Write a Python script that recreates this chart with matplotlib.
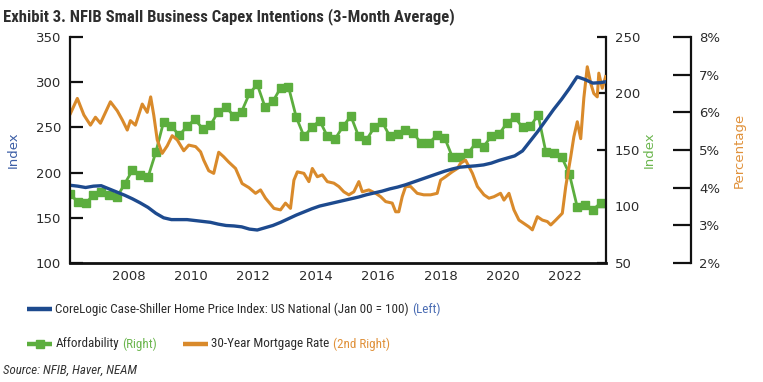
import matplotlib
matplotlib.use("Agg")
import matplotlib.pyplot as plt
from matplotlib.lines import Line2D
from matplotlib.offsetbox import AnchoredOffsetbox, DrawingArea, HPacker, TextArea
from matplotlib.ticker import FuncFormatter
import numpy as np

# ---- data ----
# quarterly dates as decimal years, Q1 2006 onward
quarters = 2006.125 + 0.25 * np.arange(70)

# CoreLogic Case-Shiller HPI, Jan 2000 = 100 (left axis)
hpi = [186, 185, 183.5, 185, 185.5, 182, 178.5, 175, 171, 166.5,
       161.5, 155, 150, 148, 148, 148, 147, 146, 145, 143,
       141.5, 141, 140, 137.5, 136.5, 139, 141.5, 145, 149, 153,
       156.5, 160, 163, 165, 167, 169, 171, 173, 175.5, 177.5,
       179.5, 182, 184, 186.5, 189.5, 192.5, 195.5, 198.5, 201.5, 204,
       206, 206.8, 207.5, 208.5, 210.5, 213.5, 216, 218.5, 224, 235,
       246, 258, 270, 281, 293, 306, 303, 299, 299.5, 301]

# Affordability index (right axis), quarterly
afford = [111, 104, 103, 110, 113, 110, 108, 120, 132, 128,
          126, 148, 175, 171, 163, 171, 177, 169, 172, 184,
          188, 180, 184, 200, 208, 188, 193, 205, 206, 179,
          162, 170, 176, 162, 160, 171, 180, 162, 159, 170,
          175, 162, 164, 168, 165, 156, 156, 163, 161, 144,
          144, 147, 156, 153, 162, 164, 174, 179, 170, 171,
          181, 148, 147, 144, 129, 100, 101, 97, 103]

# 30-year mortgage rate, % (2nd right axis)
mort_year = [2006.14, 2006.36, 2006.57, 2006.78, 2006.94, 2007.10, 2007.42, 2007.64,
             2007.80, 2007.96, 2008.06, 2008.22, 2008.44, 2008.60, 2008.71, 2008.81,
             2008.92, 2009.08, 2009.24, 2009.40, 2009.56, 2009.77, 2009.93, 2010.15,
             2010.31, 2010.41, 2010.57, 2010.73, 2010.89, 2011.05, 2011.21, 2011.43,
             2011.64, 2011.86, 2012.07, 2012.23, 2012.39, 2012.66, 2012.87, 2013.03,
             2013.19, 2013.30, 2013.41, 2013.62, 2013.78, 2013.89, 2014.05, 2014.21,
             2014.37, 2014.58, 2014.74, 2014.90, 2015.06, 2015.22, 2015.38, 2015.49,
             2015.70, 2015.92, 2016.08, 2016.24, 2016.45, 2016.56, 2016.66, 2016.77,
             2016.88, 2017.04, 2017.25, 2017.46, 2017.68, 2017.89, 2018.00, 2018.16,
             2018.37, 2018.54, 2018.64, 2018.80, 2019.02, 2019.18, 2019.39, 2019.55,
             2019.71, 2019.92, 2020.03, 2020.19, 2020.35, 2020.51, 2020.67, 2020.83,
             2020.94, 2021.10, 2021.26, 2021.42, 2021.53, 2021.69, 2021.90, 2022.01,
             2022.17, 2022.27, 2022.38, 2022.49, 2022.59, 2022.70, 2022.81, 2022.91,
             2023.02, 2023.07, 2023.18, 2023.29]
mort_rate = [5.97, 6.37, 5.93, 5.66, 5.87, 5.71, 6.28, 6.04,
             5.80, 5.53, 5.78, 5.66, 6.22, 6.00, 6.41, 5.92,
             5.27, 4.91, 5.11, 5.38, 5.27, 4.98, 5.13, 5.09,
             4.95, 4.73, 4.45, 4.38, 4.94, 4.82, 4.68, 4.51,
             4.11, 4.00, 3.85, 3.94, 3.72, 3.45, 3.41, 3.59,
             3.45, 4.20, 4.42, 4.38, 4.16, 4.51, 4.29, 4.34,
             4.16, 4.12, 4.03, 3.89, 3.81, 3.89, 4.16, 3.89,
             3.94, 3.85, 3.76, 3.63, 3.59, 3.36, 3.36, 3.76,
             4.03, 4.03, 3.85, 3.81, 3.81, 3.85, 4.20, 4.29,
             4.42, 4.51, 4.65, 4.73, 4.38, 4.03, 3.81, 3.72,
             3.76, 3.85, 3.67, 3.85, 3.41, 3.14, 3.05, 2.96,
             2.88, 3.23, 3.14, 3.10, 3.01, 3.14, 3.32, 4.03,
             4.82, 5.35, 5.75, 5.30, 6.38, 7.21, 6.77, 6.50,
             6.41, 7.04, 6.64, 6.95]

year_ticks = [2008, 2010, 2012, 2014, 2016, 2018, 2020, 2022]

BLUE = "#1d4a8e"
GREEN = "#5cae3e"
ORANGE = "#d98a2b"
DARK = "#2b2b2b"
NARROW = ["Roboto Condensed", "Liberation Sans Narrow", "Roboto"]

plt.rcParams["font.family"] = ["DejaVu Sans"]

fig = plt.figure(figsize=(7.63, 3.82), dpi=100)
W, H = 763, 382
ax = fig.add_axes([70 / W, 1 - 263 / H, 536 / W, 226 / H])
ax2 = ax.twinx()
ax3 = ax.twinx()

# stacking: green below, orange middle, blue on top
ax2.set_zorder(1)
ax3.set_zorder(2)
ax.set_zorder(3)
ax.patch.set_visible(False)
ax2.patch.set_visible(False)
ax3.patch.set_visible(False)

ax2.plot(quarters[:len(afford)], afford, color=GREEN, lw=2, marker="s",
         ms=6.4, mec=GREEN, mfc=GREEN)
ax3.plot(mort_year, mort_rate, color=ORANGE, lw=2.2)
ax.plot(quarters[:len(hpi)], hpi, color=BLUE, lw=2.4)

ax.set_xlim(2006.125, 2023.3)
ax.set_ylim(100, 350)
ax2.set_ylim(50, 250)
ax3.set_ylim(2, 8)
ax.set_xticks(year_ticks)
ax.set_yticks(range(100, 351, 50))
ax2.set_yticks(range(50, 251, 50))
ax3.set_yticks(range(2, 9))
ax3.yaxis.set_major_formatter(FuncFormatter(lambda v, p: f"{v:.0f}%"))

for a in (ax, ax2, ax3):
    for s in a.spines.values():
        s.set_visible(False)
        s.set_linewidth(1.6)
        s.set_color("#111111")
ax.spines["left"].set_visible(True)
ax.spines["bottom"].set_visible(True)
ax.spines["bottom"].set_linewidth(2)
ax2.spines["right"].set_visible(True)
ax3.spines["right"].set_visible(True)
ax3.spines["right"].set_position(("axes", (691 - 70) / 536))

ax.tick_params(axis="y", direction="in", length=9.5, width=1.6, pad=6.5,
               labelsize=9.5, labelcolor=DARK, color="#111111")
ax.tick_params(axis="x", length=0, pad=5, labelsize=9.5, labelcolor=DARK)
ax2.tick_params(axis="y", direction="in", length=6.8, width=1.6, pad=6.5,
                labelsize=9.5, labelcolor=DARK, color="#111111")
ax3.tick_params(axis="y", direction="in", length=12.8, width=1.6, pad=6,
                labelsize=9.5, labelcolor=DARK, color="#111111")

# axis titles (label coords give the edge nearest the axis)
ax.set_ylabel("Index", color="#3c5ea6", fontsize=9.5)
ax.yaxis.set_label_coords((20 - 70) / 536, 0.5)
ax2.set_ylabel("Index", color="#6cb64f", fontsize=9.5)
ax2.yaxis.set_label_coords((643 - 70) / 536, 0.5)
ax3.set_ylabel("Percentage", color="#e0913a", fontsize=9.5)
ax3.yaxis.set_label_coords((733 - 70) / 536, 0.5)

fig.text(3 / W, 1 - 17 / H, "Exhibit 3. NFIB Small Business Capex Intentions (3-Month Average)",
         family=NARROW, fontweight="bold", fontsize=12, color="#2e2e2e",
         ha="left", va="center")


# ---- legend built from handle + label + coloured suffix ----
def entry(color, label, suffix, suffix_color, square=False):
    da = DrawingArea(18, 10, 0, 0)
    da.add_artist(Line2D([0, 18], [5, 5], color=color, lw=3.2, solid_capstyle="butt"))
    if square:
        da.add_artist(Line2D([9], [5], marker="s", ms=6, color=color))
    tp = dict(family=NARROW, fontsize=9.4, color=DARK)
    sp = dict(family=NARROW, fontsize=9.4, color=suffix_color)
    return HPacker(children=[da, TextArea(label, textprops=tp), TextArea(suffix, textprops=sp)],
                   sep=2.5, align="center", pad=0)


def place(box, x, y):
    ab = AnchoredOffsetbox(loc="center left", child=box, pad=0, borderpad=0, frameon=False,
                           bbox_to_anchor=(x / W, 1 - y / H), bbox_transform=fig.transFigure)
    fig.add_artist(ab)


place(entry(BLUE, "CoreLogic Case-Shiller Home Price Index: US National (Jan 00 = 100)",
            "(Left)", "#4a6cb3"), 27, 309)
place(entry(GREEN, "Affordability", "(Right)", "#6cb64f", square=True), 27, 344)
place(entry(ORANGE, "30-Year Mortgage Rate", "(2nd Right)", "#e0913a"), 183, 344)

fig.text(3 / W, 1 - 370 / H, "Source: NFIB, Haver, NEAM", family=NARROW, style="italic",
         fontsize=9.3, color="#333333", ha="left", va="center")

fig.savefig("out.png", dpi=100)
